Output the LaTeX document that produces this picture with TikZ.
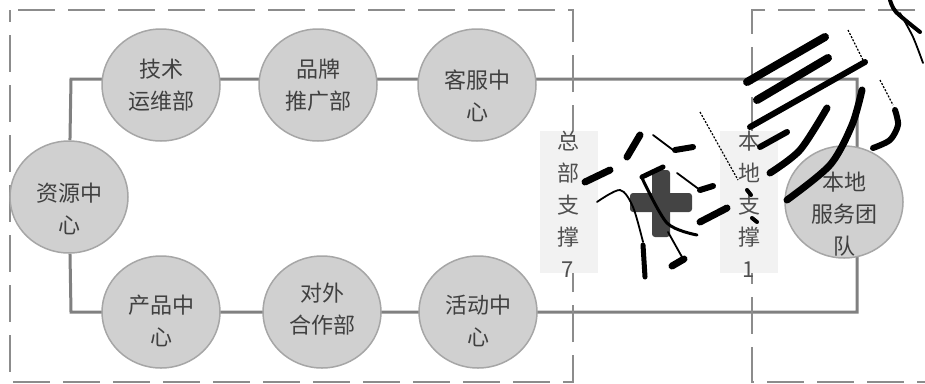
\documentclass[tikz,border=0pt]{standalone}
\usepackage{fontspec}
\setmainfont{Noto Sans CJK SC}
\usetikzlibrary{shapes.geometric,backgrounds}
\definecolor{cfill}{HTML}{D0D0D0}
\definecolor{cborder}{HTML}{A6A6A6}
\definecolor{ctext}{HTML}{404040}
\definecolor{cline}{HTML}{808080}
\definecolor{cdash}{HTML}{8C8C8C}
\definecolor{cbox}{HTML}{F2F2F2}
\definecolor{cvtext}{HTML}{505050}
\definecolor{cplus}{HTML}{444444}
\begin{document}
\begin{tikzpicture}[x=1pt,y=-1pt,
  bubble/.style={ellipse, draw=cborder, line width=1.5pt, fill=cfill, minimum width=118pt, minimum height=112pt, inner sep=0pt},
  btxt/.style={align=center, font=\fontsize{22}{32}\selectfont, text=ctext, inner sep=0pt},
  conn/.style={draw=cline, line width=3pt},
  frame/.style={draw=cdash, line width=2pt, dash pattern=on 37pt off 13pt, dash phase=25pt},
  vbox/.style={fill=cbox, minimum width=58pt, minimum height=142pt, inner sep=0pt},
  vtxt/.style={align=center, font=\fontsize{22}{32}\selectfont, text=cvtext, inner sep=0pt},
  brush/.style={draw=black, line width=7pt, line cap=round, line join=round},
  brushmid/.style={draw=black, line width=3pt, line cap=round, line join=round},
  brushfine/.style={draw=black, line width=1.8pt, line cap=round, line join=round},
  brushdot/.style={draw=black, line width=1.2pt, dash pattern=on 2pt off 1.5pt}]
\useasboundingbox (0,0) rectangle (925,383);

% dashed frames
\draw[frame] (10,10) rectangle (573,382);
\draw[frame] (940,10) -- (752,10) -- (752,382) -- (940,382);

% corner coordinates of the loop
\coordinate (tl) at (71,79);
\coordinate (tr) at (857,79);
\coordinate (bl) at (71,312);
\coordinate (br) at (857,312);

% label boxes
\node[vbox] (hqbox) at (569,202) {};
\node[vtxt] (hq) at (568,204) {总\\部\\支\\撑\\7};
\node[vbox] (lcbox) at (749,202) {};
\node[vtxt] (lc) at (749,204) {本\\地\\支\\撑\\1};

% circles
\node[bubble] (zy) at (69,197) {};
\node[btxt] at (69,209) {资源中\\心};
\node[bubble] (js) at (161,85) {};
\node[btxt] at (161,85) {技术\\运维部};
\node[bubble] (pp) at (318,85) {};
\node[btxt] at (318,85) {品牌\\推广部};
\node[bubble] (kf) at (477,85) {};
\node[btxt] at (477,96) {客服中\\心};
\node[bubble] (cp) at (161,312) {};
\node[btxt] at (161,321) {产品中\\心};
\node[bubble] (dw) at (322,312) {};
\node[btxt] at (322,309) {对外\\合作部};
\node[bubble] (hd) at (478,312) {};
\node[btxt] at (478,321) {活动中\\心};
\node[bubble] (bd) at (844,202) {};
\node[btxt] at (844,214) {本地\\服务团\\队};

% connectors behind
\begin{scope}[on background layer]
\draw[conn] (zy) -- (tl) -- (tr) -- (tr |- bd);
\draw[conn] (zy) -- (bl) -- (br) -- (br |- bd);
\end{scope}

% plus icon
\fill[cplus, rounded corners=3pt] (630,193) rectangle (692,212);
\fill[cplus, rounded corners=3pt] (652,170) rectangle (670,237);

% brush strokes
\draw[brush] (585,182) -- (610,170);
\draw[brush] (627,157) -- (640,135);
\draw[brushfine] (653,135) -- (673,150);
\draw[brush, line width=6pt] (675,150) -- (693,147);
\draw[brushfine] plot[smooth] coordinates {(597,202) (620,190) (633,207) (643,242)};
\draw[brushmid, line width=5pt] (643,245) -- (645,277);
\draw[brushmid, line width=5pt] (642,177) -- (663,167);
\draw[brushmid] plot[smooth] coordinates {(642,178) (667,223) (697,235)};
\draw[brushfine] (668,232) -- (682,257);
\draw[brush] (672,266) -- (684,259);
\draw[brushfine] (677,173) -- (700,190);
\draw[brush, line width=6pt] (700,190) -- (713,186);
\draw[brush] (700,222) -- (727,208);
\draw[brushdot] (700,112) -- (738,180);
\draw[brush, line width=8pt] (747,82) -- (825,37);
\draw[brush, line width=8pt] (757,100) -- (828,58);
\draw[brush, line width=6pt] (750,127) -- (865,62);
\draw[brushdot] (848,30) -- (863,60);
\draw[brush, line width=6pt] (760,147) -- (787,132);
\draw[brush] plot[smooth] coordinates {(770,173) (800,150) (827,108)};
\draw[brush] plot[smooth] coordinates {(787,200) (830,165) (852,125) (862,90)};
\draw[brushdot] (880,80) -- (893,105);
\draw[brush, line width=6pt] plot[smooth] coordinates {(895,110) (898,125) (890,140) (873,148)};
\draw[brushmid, line width=4pt] plot[smooth] coordinates {(890,0) (896,12) (920,32)};
\draw[brushfine] plot[smooth] coordinates {(900,13) (913,37) (923,63)};
\draw[brushmid, line width=4pt] (747,190) -- (751,195);
\draw[brushmid, line width=4pt] (752,218) -- (757,222);
\end{tikzpicture}
\end{document}
